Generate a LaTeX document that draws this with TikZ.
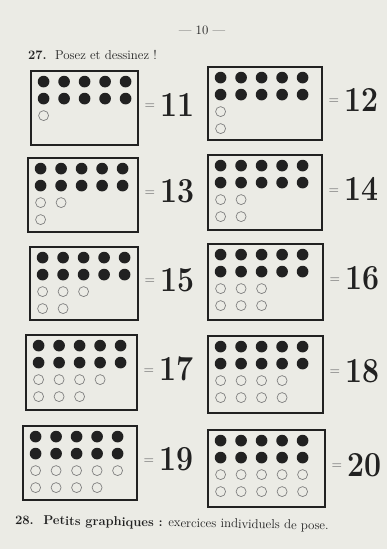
\documentclass[tikz,border=0pt]{standalone}
\usepackage{tikz}
\usetikzlibrary{positioning}
\definecolor{paper}{rgb}{0.92,0.92,0.90}
\definecolor{ink}{rgb}{0.13,0.13,0.13}
\newcommand{\px}{0.03cm}
\newcommand{\eqs}{\raisebox{0.22em}{\normalsize\color{gray}=}\,}
\newcommand{\digits}[1]{\eqs\scalebox{0.86}[1]{#1}}
% beads of one tray: #1 tray, #2 open beads in row 3, #3 open beads in row 4
\newcommand{\beads}[3]{%
	\begin{scope}[shift={(#1.north west)}]
		\foreach \i in {1,...,5}
			\foreach \j in {1,2}
				\fill[ink] (14+20.5*\i-20.5, 12+17*\j-17) circle (1.75mm);
		\foreach \i in {1,...,#2}
			\draw[hole] (14+20.5*\i-20.5, 46) circle (1.5mm);
		\ifnum#3>0
		\foreach \i in {1,...,#3}
			\draw[hole] (14+20.5*\i-20.5, 63) circle (1.5mm);
		\fi
	\end{scope}}
\begin{document}
\begin{tikzpicture}[x=\px, y=-\px,
		tray/.style 2 args={draw=ink, line width=2.4pt, minimum width=#1*\px, minimum height=#2*\px, inner sep=0pt},
		hole/.style={draw=gray, line width=0.6pt},
		num/.style={font=\fontsize{30}{30}\selectfont\bfseries, text=ink, inner sep=0pt, yshift=1mm},
		txt/.style={font=\fontsize{11}{13}\selectfont, text=ink, inner sep=0pt}]
	\fill[paper] (0,0) rectangle (387,549);
	\useasboundingbox (0,0) rectangle (387,549);
	
	\node[txt] (page) at (202,30) {--- 10 ---};
	\node[txt, anchor=west] (title) at (28,55) {\textbf{27.}\ \ Posez et dessinez !};
	
	% left column
	\node[tray={107}{74}] (b11) at (84.5,108) {};
	\node[tray={110}{74}] (b13) at (83,195) {};
	\node[tray={108}{73}] (b15) at (84,283.5) {};
	\node[tray={111}{75}] (b17) at (81.5,372.5) {};
	\node[tray={114}{74}] (b19) at (80,463) {};
	% right column
	\node[tray={114}{73}] (b12) at (265,103.5) {};
	\node[tray={114}{75}] (b14) at (265,192.5) {};
	\node[tray={115}{76}] (b16) at (265.5,282) {};
	\node[tray={115}{77}] (b18) at (265.5,374.5) {};
	\node[tray={117}{77}] (b20) at (266.5,468.5) {};
	
	\beads{b11}{1}{0}
	\beads{b12}{1}{1}
	\beads{b13}{2}{1}
	\beads{b14}{2}{2}
	\beads{b15}{3}{2}
	\beads{b16}{3}{3}
	\beads{b17}{4}{3}
	\beads{b18}{4}{4}
	\beads{b19}{5}{4}
	\beads{b20}{5}{5}
	
	\node[num, right=1.5mm of b11] (n11) {\digits{11}};
	\node[num, right=1.5mm of b12] (n12) {\digits{12}};
	\node[num, right=1.5mm of b13] (n13) {\digits{13}};
	\node[num, right=1.5mm of b14] (n14) {\digits{14}};
	\node[num, right=1.5mm of b15] (n15) {\digits{15}};
	\node[num, right=1.5mm of b16] (n16) {\digits{16}};
	\node[num, right=1.5mm of b17] (n17) {\digits{17}};
	\node[num, right=1.5mm of b18] (n18) {\digits{18}};
	\node[num, right=1.5mm of b19] (n19) {\digits{19}};
	\node[num, right=1.5mm of b20] (n20) {\digits{20}};
	
	\node[txt, anchor=west, rotate=-1] (foot) at (15,521) {\textbf{28.\ \ Petits graphiques :} exercices individuels de pose.};
\end{tikzpicture}
\end{document}
